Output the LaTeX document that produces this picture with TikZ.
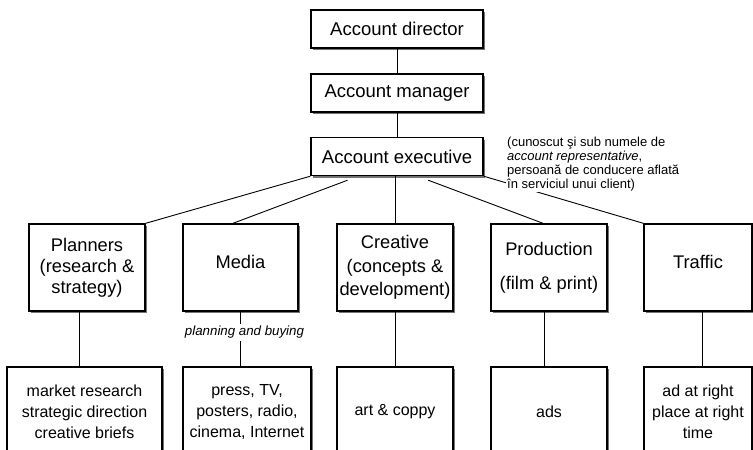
\documentclass[tikz,border=0pt]{standalone}
\usepackage{fontspec}
\setmainfont{Liberation Sans}
\usetikzlibrary{calc,shadows}

\begin{document}
\begin{tikzpicture}[x=1pt,y=-1pt,
	boxshadow/.style={drop shadow={shadow xshift=2pt,shadow yshift=-2pt,fill=black!55,opacity=1}},
	chief/.style={draw,line width=1.4pt,fill=white,boxshadow,minimum width=172pt,minimum height=38pt,inner sep=0pt,font=\fontsize{18.5}{22}\selectfont},
	dept/.style={draw,line width=1.4pt,fill=white,boxshadow,minimum height=87pt,inner sep=0pt,align=center,font=\fontsize{18.3}{21}\selectfont},
	task/.style={draw,line width=1.4pt,fill=white,boxshadow,minimum height=90pt,inner sep=0pt,align=center,font=\fontsize{16}{21}\selectfont},
	link/.style={line width=0.9pt},
	note/.style={fill=white,inner sep=1pt,align=left,font=\fontsize{13}{14}\selectfont}]
	\pgfmathsetmacro{\top}{397}			%centre of the account column
	\pgfmathsetmacro{\rowtwo}{267.5}	%centre line of the departments
	\pgfmathsetmacro{\rowthree}{412}	%centre line of the tasks
	\pgfmathsetmacro{\unit}{116}		%width of a department

	\useasboundingbox (0,0) rectangle (753,450);

	%account people
	\node[chief] (director) at (\top,29) {Account director};
	\node[chief] (manager) at (\top,93) {Account manager};
	\node[chief] (executive) at (\top,156.5) {Account executive};

	%departments
	\node[dept,minimum width=\unit] (planners) at (87,\rowtwo) {Planners\\(research \&\\strategy)};
	\node[dept,minimum width=\unit-1,text depth=12pt] (media) at (240.5,\rowtwo) {Media};
	\node[dept,minimum width=\unit] (creative) at (395,\rowtwo) {Creative\\[3pt](concepts \&\\[2pt]development)};
	\node[dept,minimum width=\unit] (production) at (549,\rowtwo) {Production\\[13pt](film \& print)};
	\node[dept,minimum width=\unit-8,text depth=12pt] (traffic) at (698,\rowtwo) {Traffic};

	%what they do
	\node[task,minimum width=155] (plantask) at (84.5,\rowthree) {market research\\strategic direction\\creative briefs};
	\node[task,minimum width=128] (mediatask) at (247,\rowthree) {press, TV,\\posters, radio,\\cinema, Internet};
	\node[task,minimum width=\unit] (creatask) at (395,\rowthree) {art \& coppy};
	\node[task,minimum width=\unit] (prodtask) at (549,\rowthree) {ads};
	\node[task,minimum width=\unit-8] (traftask) at (698,\rowthree) {ad at right\\place at right\\time};

	\draw[link] (director) -- (manager);
	\draw[link] (manager) -- (executive);

	\coordinate (mediastart) at ($(executive.south west)!0.215!(executive.south east)+(0,4)$);
	\coordinate (prodstart) at ($(executive.south west)!0.68!(executive.south east)+(0,4)$);
	\draw[link] (executive.south west) -- (planners.north east);
	\draw[link] (mediastart) -- ([xshift=-7.5pt]media.north);
	\draw[link] (creative.north) -- (creative.north |- executive.south);
	\draw[link] (prodstart) -- ([xshift=-6pt]production.north);
	\draw[link] (executive.south east) -- (traffic.north west);

	\draw[link] ([xshift=-8pt]planners.south) -- ([xshift=-8pt]planners.south |- plantask.north);
	\draw[link] (media.south) -- node[pos=0.38,xshift=4pt,fill=white,inner sep=2pt,font=\itshape\fontsize{13.3}{14}\selectfont] (buying) {planning and buying} (media.south |- mediatask.north);
	\draw[link] (creative.south) -- (creative.south |- creatask.north);
	\draw[link] ([xshift=-5pt]production.south) -- ([xshift=-5pt]production.south |- prodtask.north);
	\draw[link] ([xshift=4pt]traffic.south) -- ([xshift=4pt]traffic.south |- traftask.north);

	%side remark, over the traffic line
	\node[note,anchor=west] (remark) at (506,164) {(cunoscut şi sub numele de\\\textit{account representative},\\persoană de conducere aflată\\în serviciul unui client)};
\end{tikzpicture}
\end{document}
